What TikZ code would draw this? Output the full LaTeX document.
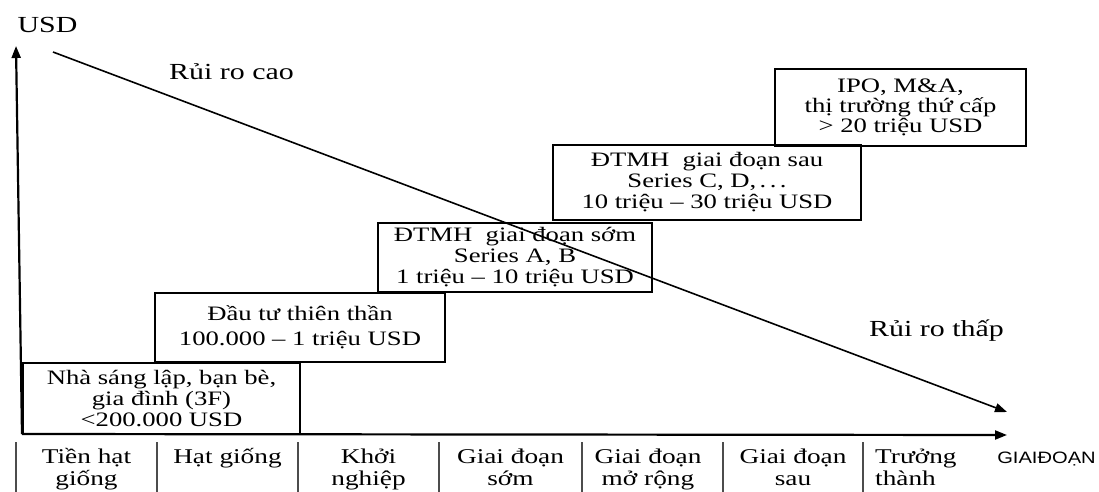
\documentclass[tikz,border=0pt]{standalone}
\usepackage{fontspec}
\setmainfont{Liberation Serif}[FakeStretch=1.3]
\newfontfamily\trucfont{Liberation Sans}[FakeStretch=1.22]
\usetikzlibrary{shapes,positioning,calc,arrows.meta}

\begin{document}
\begin{tikzpicture}[x=1pt,y=-1pt,
vongvon/.style={draw, line width=1.8pt, align=center, inner sep=0pt, font=\fontsize{20.5}{21}\selectfont},
giaidoan/.style={align=center, anchor=base, inner sep=0pt, font=\fontsize{21}{22}\selectfont},
nhan/.style={anchor=base, inner sep=0pt, font=\fontsize{23}{24}\selectfont},
truc/.style={line width=2.2pt, -{Triangle[length=12pt,width=9pt]}},
tach/.style={line width=1.2pt, gray!60!black}]

\useasboundingbox (0,0) rectangle (1099,492);

% AXES

\coordinate (goc) at (22,434);
\coordinate (truc-y) at (16,46);
\coordinate (truc-x) at (1007,435);
\draw [truc] (goc) -- (truc-y);
\draw [truc] (goc) -- (truc-x);

\node [nhan] (usd) at (47.5,33) {USD};
\node [anchor=base, inner sep=0pt, font=\trucfont\fontsize{16.5}{17}\selectfont] (giai-doan) at (1046.5,463) {GIAIĐOẠN};

% BOXES

\node [vongvon, minimum width=277pt, minimum height=71pt] (nha-sang-lap) at (161.5,398.5)
{Nhà sáng lập, bạn bè,\\ gia đình (3F)\\ <200.000 USD};

\node [vongvon, minimum width=290pt, minimum height=69pt, font=\fontsize{20.5}{25}\selectfont] (thien-than) at (300,327.5)
{Đầu tư thiên thần\\ 100.000 – 1 triệu USD};

\node [vongvon, minimum width=274pt, minimum height=69pt] (dtmh-som) at (515,257.5)
{ĐTMH\ \ giai đoạn sớm\\ Series A, B\\ 1 triệu – 10 triệu USD};

\node [vongvon, minimum width=308pt, minimum height=75pt] (dtmh-sau) at (707,182.5)
{ĐTMH\ \ giai đoạn sau\\ Series C, D,\,.\,.\,.\\ 10 triệu – 30 triệu USD};

\node [vongvon, minimum width=251pt, minimum height=77pt, font=\fontsize{20.5}{20}\selectfont] (ipo) at (900.5,107.5)
{IPO, M\&A,\\ thị trường thứ cấp\\ > 20 triệu USD};

% RISK

\coordinate (rui-ro-dau) at (53,52);
\coordinate (rui-ro-cuoi) at (1007,412);
\draw [line width=1.6pt, -{Triangle[length=12pt,width=9pt]}] (rui-ro-dau) -- (rui-ro-cuoi);

\node [nhan] (rui-ro-cao) at (231.5,80) {Rủi ro cao};
\node [nhan] (rui-ro-thap) at (936.5,336) {Rủi ro thấp};

% STAGES

\foreach \x in {16,157,298,439,582,723,863}
  \draw [tach] (\x,442) -- (\x,495);

\node [giaidoan] (tien-hat-giong) at (86.5,485) {Tiền hạt\\ giống};
\node [giaidoan] (hat-giong) at (227.5,463) {Hạt giống};
\node [giaidoan] (khoi-nghiep) at (368.5,485) {Khởi\\ nghiệp};
\node [giaidoan] (gd-som) at (510.5,485) {Giai đoạn\\ sớm};
\node [giaidoan] (gd-mo-rong) at (648,485) {Giai đoạn\\ mở rộng};
\node [giaidoan] (gd-sau) at (793,485) {Giai đoạn\\ sau};
\node [giaidoan, align=left, anchor=base west] (truong-thanh) at (875,485) {Trưởng\\ thành};

\end{tikzpicture}
\end{document}
